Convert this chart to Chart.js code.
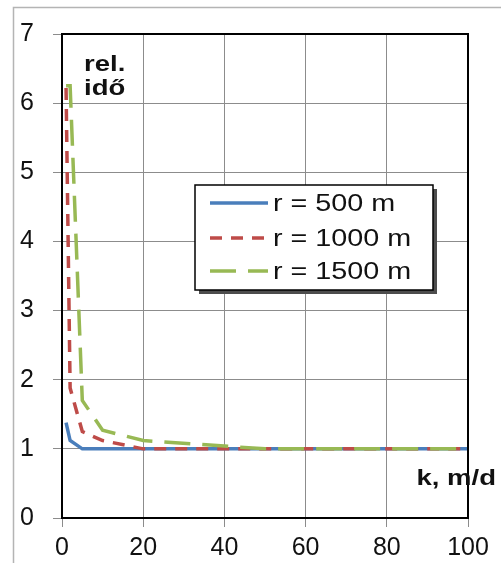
<!DOCTYPE html>
<html>
<head>
<meta charset="utf-8">
<script src="https://cdn.jsdelivr.net/npm/chart.js@4/dist/chart.umd.min.js"></script>
<style>
  html, body { margin: 0; padding: 0; background: #ffffff; }
  #wrap { width: 501px; height: 563px; position: relative; }
</style>
</head>
<body>
<div id="wrap"><canvas id="c" width="501" height="563"></canvas></div>
<script>
// ---- data ----
const kValues = [1, 2, 5, 10, 20, 50, 100];           // k, m/d
const r500  = [1.38, 1.12, 1.0, 1.0, 1.0, 1.0, 1.0];
const r1000 = [6.22, 1.88, 1.25, 1.12, 1.0, 1.0, 1.0];
const r1500 = [6.25, 6.25, 1.7, 1.27, 1.12, 1.0, 1.0];
const seriesLabels = ['r = 500 m', 'r = 1000 m', 'r = 1500 m'];
const yAxisTitle = ['rel.', 'idő'];
const xAxisTitle = 'k, m/d';

const toPts = (ys) => kValues.map((x, i) => ({ x: x, y: ys[i] }));

const STRETCH = 1.25;
function stretchedText(ctx, text, x, y, font, align) {
  ctx.save();
  ctx.font = font;
  ctx.textBaseline = 'alphabetic';
  const w = ctx.measureText(text).width * STRETCH;
  let sx = x;
  if (align === 'right') sx = x - w;
  ctx.translate(sx, y);
  ctx.scale(STRETCH, 1);
  ctx.textAlign = 'left';
  ctx.fillText(text, 0, 0);
  ctx.restore();
}

const decor = {
  id: 'decor',
  beforeDraw(chart) {
    const ctx = chart.ctx;
    ctx.save();
    ctx.fillStyle = '#ffffff';
    ctx.fillRect(0, 0, chart.width, chart.height);
    ctx.strokeStyle = '#b4b4b4';
    ctx.lineWidth = 1.5;
    ctx.beginPath();
    ctx.moveTo(13.5, chart.height);
    ctx.lineTo(13.5, 7.5);
    ctx.lineTo(chart.width, 7.5);
    ctx.stroke();
    ctx.restore();
  },
  afterDraw(chart) {
    const ctx = chart.ctx;
    const a = chart.chartArea;
    ctx.save();
    // plot frame
    ctx.strokeStyle = '#000000';
    ctx.lineWidth = 2;
    ctx.strokeRect(a.left, a.top, a.right - a.left, a.bottom - a.top);

    // axis titles
    ctx.fillStyle = '#111111';
    const bold = 'bold 22px "Liberation Sans", Arial, sans-serif';
    stretchedText(ctx, yAxisTitle[0], a.left + 22, a.top + 37, bold, 'left');
    stretchedText(ctx, yAxisTitle[1], a.left + 22, a.top + 61, bold, 'left');
    stretchedText(ctx, xAxisTitle, chart.width - 5, a.bottom - 33, bold, 'right');

    // legend
    const bx = 195, by = 185, bw = 238, bh = 105;
    ctx.fillStyle = '#4d4d4d';
    ctx.fillRect(bx + 4, by + 4, bw, bh);
    ctx.fillStyle = '#ffffff';
    ctx.fillRect(bx, by, bw, bh);
    ctx.strokeStyle = '#000000';
    ctx.lineWidth = 1.5;
    ctx.strokeRect(bx, by, bw, bh);
    const rows = [203, 238, 271];
    chart.data.datasets.forEach((ds, i) => {
      const y = rows[i];
      ctx.save();
      ctx.strokeStyle = ds.borderColor;
      ctx.lineWidth = ds.borderWidth;
      ctx.setLineDash(ds.borderDash || []);
      ctx.beginPath();
      ctx.moveTo(210, y);
      ctx.lineTo(268, y);
      ctx.stroke();
      ctx.restore();
      ctx.fillStyle = '#111111';
      stretchedText(ctx, ds.label, 273, y + 8, '23px "Liberation Sans", Arial, sans-serif', 'left');
    });
    ctx.restore();
  }
};

new Chart(document.getElementById('c'), {
  type: 'line',
  data: {
    datasets: [
      { label: seriesLabels[0], data: toPts(r500), borderColor: '#4a7ebb', borderWidth: 3.5, pointRadius: 0, tension: 0, fill: false, order: 3 },
      { label: seriesLabels[1], data: toPts(r1000), borderColor: '#be4b48', borderWidth: 3.5, borderDash: [12, 9], pointRadius: 0, tension: 0, fill: false, order: 2 },
      { label: seriesLabels[2], data: toPts(r1500), borderColor: '#98b954', borderWidth: 3.5, borderDash: [26, 12], pointRadius: 0, tension: 0, fill: false, order: 1 }
    ]
  },
  options: {
    responsive: false,
    animation: false,
    devicePixelRatio: 1,
    layout: { padding: { top: 24, right: 33, left: 0, bottom: 0 } },
    plugins: { legend: { display: false }, tooltip: { enabled: false } },
    scales: {
      x: {
        type: 'linear', min: 0, max: 100,
        afterFit(s) { s.height = 45; },
        ticks: { stepSize: 20, padding: 6, color: '#111111', font: { family: '"Liberation Sans", Arial, sans-serif', size: 25 } },
        grid: { color: '#8c8c8c', lineWidth: 1, tickLength: 9 },
        border: { color: '#000000', width: 2 }
      },
      y: {
        min: 0, max: 7,
        afterFit(s) { s.width = 62; },
        ticks: { stepSize: 1, padding: 19, color: '#111111', font: { family: '"Liberation Sans", Arial, sans-serif', size: 25 } },
        grid: { color: '#8c8c8c', lineWidth: 1, tickLength: 9 },
        border: { color: '#000000', width: 2 }
      }
    }
  },
  plugins: [decor]
});
</script>
</body>
</html>
